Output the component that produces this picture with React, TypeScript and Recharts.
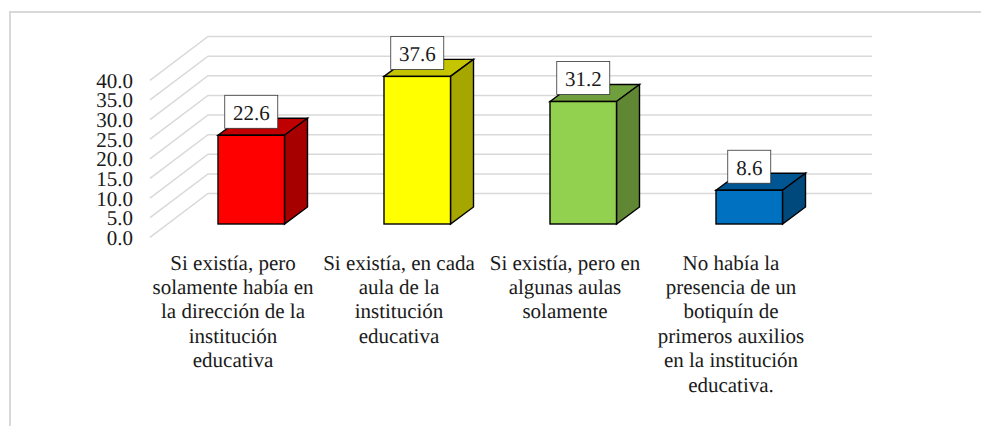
import React from "react";
import { BarChart, Bar, XAxis, YAxis, CartesianGrid, LabelList } from "recharts";

const categoryLines: string[][] = [
  ["Si existía, pero", "solamente había en", "la dirección de la", "institución", "educativa"],
  ["Si existía, en cada", "aula de la", "institución", "educativa"],
  ["Si existía, pero en", "algunas aulas", "solamente"],
  ["No había la", "presencia de un", "botiquín de", "primeros auxilios", "en la institución", "educativa."],
];
const values: number[] = [22.6, 37.6, 31.2, 8.6];
const yTicks: number[] = [0, 5, 10, 15, 20, 25, 30, 35, 40];

const frontFill = ["#FF0000", "#FFFF00", "#92D050", "#0070C0"];
const topFill = ["#C00000", "#C4C400", "#70A03D", "#005693"];
const sideFill = ["#A60000", "#A6A600", "#5F8734", "#00497D"];

const FONT = "'Liberation Serif', 'Times New Roman', serif";
const FONT_SIZE = 21;
const TEXT = "#1a1a1a";
const WALL_DX = 58;
const WALL_DY = 43.8;
const BAR_DX = 18;
const BAR_DY = 13.3;
const DEPTH_X = 23;
const DEPTH_Y = 17;

const data = values.map((value, i) => ({ key: String(i), value }));

function GridLine(props: any) {
  const { x1, y1, x2 } = props;
  return (
    <polyline
      points={`${x1},${y1} ${x1 + WALL_DX},${y1 - WALL_DY} ${x2 + WALL_DX},${y1 - WALL_DY}`}
      fill="none"
      stroke="#D9D9D9"
      strokeWidth={1.5}
    />
  );
}

function Bar3D(props: any) {
  const { x, y, width, height, index } = props;
  const l = x + BAR_DX;
  const t = y - BAR_DY;
  const r = l + width;
  const b = t + height;
  return (
    <g stroke="#000" strokeWidth={1.4} strokeLinejoin="miter">
      <polygon
        points={`${l},${t} ${l + DEPTH_X},${t - DEPTH_Y} ${r + DEPTH_X},${t - DEPTH_Y} ${r},${t}`}
        fill={topFill[index]}
      />
      <polygon
        points={`${r},${t} ${r + DEPTH_X},${t - DEPTH_Y} ${r + DEPTH_X},${b - DEPTH_Y} ${r},${b}`}
        fill={sideFill[index]}
      />
      <rect x={l} y={t} width={width} height={height} fill={frontFill[index]} />
    </g>
  );
}

function ValueBox(props: any) {
  const { x, y, width, value } = props;
  const text = Number(value).toFixed(1);
  const w = text.length * 10 + 13;
  const h = 33;
  const cx = x + BAR_DX + width / 2;
  const bottom = y - BAR_DY - 7;
  return (
    <g>
      <rect x={cx - w / 2} y={bottom - h} width={w} height={h} fill="#fff" stroke="#333" strokeWidth={0.8} />
      <text
        x={cx}
        y={bottom - h / 2 + 8}
        textAnchor="middle"
        fontFamily={FONT}
        fontSize={FONT_SIZE}
        fill={TEXT}
        textRendering="geometricPrecision"
      >
        {text}
      </text>
    </g>
  );
}

function CategoryTick(props: any) {
  const { x, payload } = props;
  const lines = categoryLines[Number(payload.value)] || [];
  return (
    <text textAnchor="middle" fontFamily={FONT} fontSize={FONT_SIZE} fill={TEXT} textRendering="geometricPrecision">
      {lines.map((line, i) => (
        <tspan key={i} x={x} y={269.5 + i * 24.4}>
          {line}
        </tspan>
      ))}
    </text>
  );
}

export default function App() {
  return (
    <div style={{ position: "absolute", left: 0, top: 0, width: 981, height: 426, overflow: "hidden", background: "#fff" }}>
      <div
        style={{
          position: "absolute",
          left: 9,
          top: 11,
          width: 972,
          height: 415,
          borderLeft: "2px solid #D9D9D9",
          borderTop: "2px solid #D9D9D9",
          boxSizing: "border-box",
        }}
      />
      <div style={{ position: "absolute", left: 0, top: 0 }}>
        <BarChart
          width={981}
          height={426}
          data={data}
          margin={{ top: 80.3, right: 167, bottom: 38.7, left: 90 }}
          barSize={66.5}
        >
          <CartesianGrid vertical={false} horizontal={(p: any) => <GridLine key={p.key} {...p} />} />
          <XAxis
            dataKey="key"
            axisLine={false}
            tickLine={false}
            height={150}
            interval={0}
            tick={<CategoryTick />}
          />
          <YAxis
            width={60}
            domain={[0, 40]}
            ticks={yTicks}
            interval={0}
            axisLine={false}
            tickLine={false}
            tickSize={0}
            tickMargin={17}
            tickFormatter={(v: number) => v.toFixed(1)}
            tick={{ fontFamily: FONT, fontSize: FONT_SIZE, fill: TEXT, textRendering: "geometricPrecision" }}
          />
          <Bar dataKey="value" isAnimationActive={false} shape={(p: any) => <Bar3D {...p} />}>
            <LabelList dataKey="value" content={(p: any) => <ValueBox {...p} />} />
          </Bar>
        </BarChart>
      </div>
    </div>
  );
}
